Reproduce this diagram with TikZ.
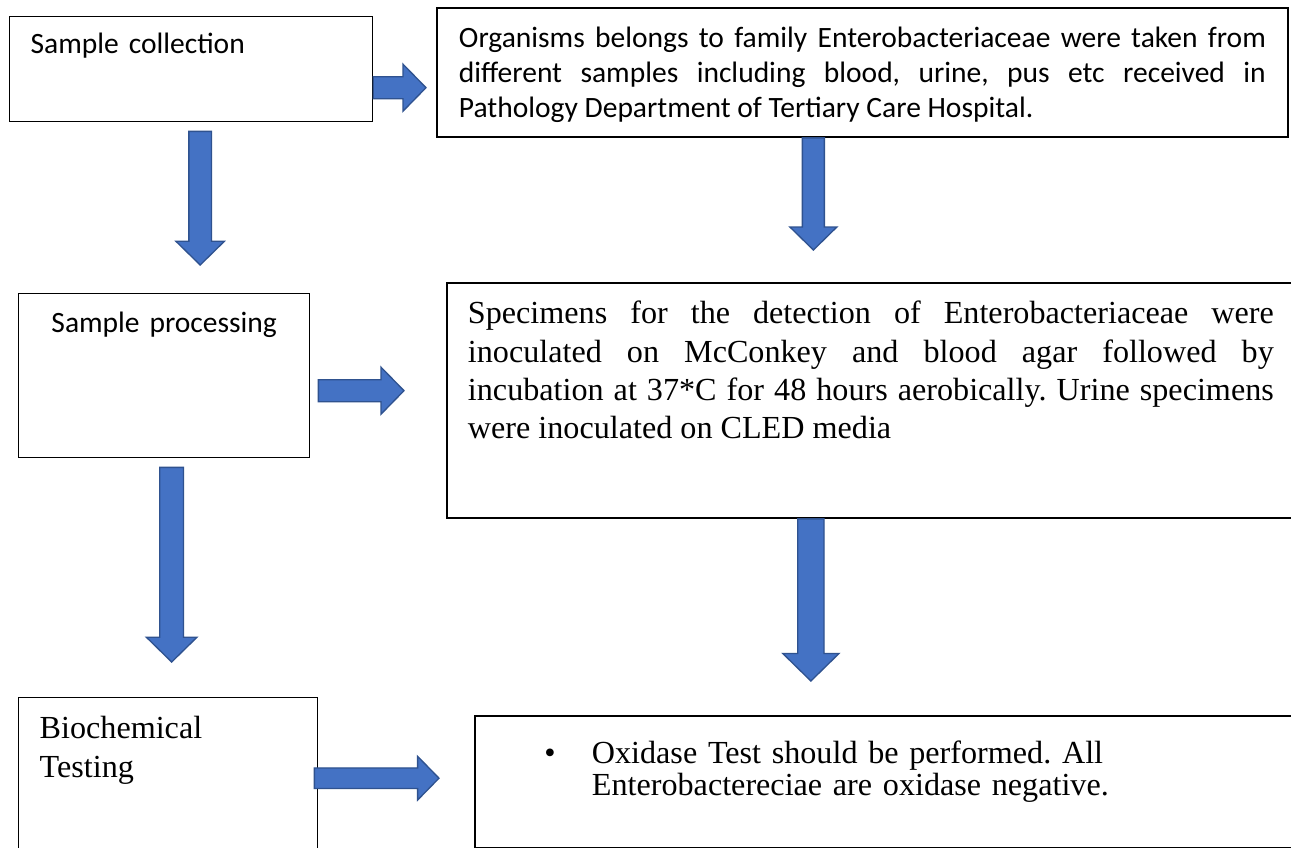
\documentclass[tikz,border=0pt]{standalone}
\usepackage{fontspec}
\setmainfont{Liberation Serif}
\newfontfamily\calibfont{Carlito}
\usetikzlibrary{calc}
\tolerance=10000
\hbadness=10000
\frenchspacing
\definecolor{arrfill}{HTML}{4472C4}
\definecolor{arrline}{HTML}{2F528F}
\tikzset{
  box/.style={draw, line width=0.8pt, anchor=north west, inner ysep=0pt, inner xsep=0.42cm},
  bigbox/.style={box, line width=1.1pt},
  sans/.style={font=\calibfont\fontsize{16.8pt}{19.9pt}\selectfont},
  serif/.style={font=\fontsize{18.3pt}{21.8pt}\selectfont},
  blk/.style={fill=arrfill, draw=arrline, line width=0.75pt, line join=miter},
}
% block arrows: [size factor]{start}{tip}
\newcommand{\rarr}[3][1]{%
  \draw[blk] let \p1=#2, \p2=#3 in
    (\x1,\y1+0.22cm*#1) -- (\x2-0.46cm*#1,\y1+0.22cm*#1) -- (\x2-0.46cm*#1,\y1+0.47cm*#1)
    -- (\x2,\y1) -- (\x2-0.46cm*#1,\y1-0.47cm*#1) -- (\x2-0.46cm*#1,\y1-0.22cm*#1)
    -- (\x1,\y1-0.22cm*#1) -- cycle;}
\newcommand{\darr}[3][1]{%
  \draw[blk] let \p1=#2, \p2=#3 in
    (\x1-0.22cm*#1,\y1) -- (\x1-0.22cm*#1,\y2+0.46cm*#1) -- (\x1-0.47cm*#1,\y2+0.46cm*#1)
    -- (\x1,\y2) -- (\x1+0.47cm*#1,\y2+0.46cm*#1) -- (\x1+0.22cm*#1,\y2+0.46cm*#1)
    -- (\x1+0.22cm*#1,\y1) -- cycle;}

\begin{document}
\begin{tikzpicture}[x=0.02cm, y=-0.02cm]
  \fill[white] (0,0) rectangle (1291,848);
  \useasboundingbox (0,0) rectangle (1291,848);
  \clip (0,0) rectangle (1291,848);

  % --- left column ---
  \node[box, sans, text width=6.42cm, text height=0.74cm, text depth=1.36cm] (coll) at (9,16)
    {Sample collection};
  \node[box, sans, align=center, inner xsep=0.2cm, text width=5.42cm, text height=0.78cm, text depth=2.5cm] (proc) at (18,293)
    {Sample processing};
  \node[box, align=left, text width=5.14cm, text height=0.82cm, text depth=2.64cm,
    font=\fontsize{18.3pt}{22.2pt}\selectfont] (bio) at (18,697)
    {Biochemical\\Testing};

  % --- right column ---
  \node[bigbox, sans, align=justify, inner xsep=0.44cm, text width=16.14cm, text height=0.8cm, text depth=1.78cm] (orgs) at (436,7)
    {Organisms belongs to family Enterobacteriaceae were taken from\linebreak
     different samples including blood, urine, pus etc received in\linebreak
     Pathology Department of Tertiary Care Hospital.};
  \node[bigbox, serif, align=justify, text width=16.12cm, text height=0.82cm, text depth=3.88cm] (spec) at (446,282)
    {Specimens for the detection of Enterobacteriaceae were\linebreak
     inoculated on McConkey and blood agar followed by\linebreak
     incubation at 37*C for 48 hours aerobically. Urine specimens\linebreak
     were inoculated on CLED media};
  \node[bigbox, inner xsep=0.4cm, text width=15.72cm, text height=0.96cm, text depth=1.68cm,
    font=\fontsize{18.3pt}{18.2pt}\selectfont] (oxi) at (474,715)
    {\makebox[1.94cm][l]{\hspace{0.99cm}\textbullet}\hangindent=1.94cm\hangafter=1
     Oxidase Test should be performed. All\hfil\break
     Enterobactereciae are oxidase negative.\par};

  % --- arrow ends ---
  \coordinate (a1s) at ($(coll.east)+(0,18.5)$);
  \coordinate (a1e) at ($(orgs.west |- a1s)+(-10,0)$);
  \coordinate (a2s) at ($(coll.south)+(9,9)$);
  \coordinate (a2e) at ($(a2s |- proc.north)+(0,-28)$);
  \coordinate (a3s) at ($(orgs.south)+(-49,0)$);
  \coordinate (a3e) at ($(a3s |- spec.north)+(0,-32)$);
  \coordinate (a4s) at ($(proc.east)+(8,15)$);
  \coordinate (a4e) at ($(spec.west |- a4s)+(-42,0)$);
  \coordinate (a5s) at ($(proc.south)+(7.5,9)$);
  \coordinate (a5e) at ($(a5s |- bio.north)+(0,-35)$);
  \coordinate (a6s) at ($(spec.south)+(-60,0)$);
  \coordinate (a6e) at ($(a6s |- oxi.north)+(0,-34)$);
  \coordinate (a7s) at ($(bio.east)+(-4,-6)$);
  \coordinate (a7e) at ($(oxi.west |- a7s)+(-35,0)$);

  % --- block arrows ---
  \rarr{(a1s)}{(a1e)}
  \darr[1.03]{(a2s)}{(a2e)}
  \darr{(a3s)}{(a3e)}
  \rarr{(a4s)}{(a4e)}
  \darr[1.08]{(a5s)}{(a5e)}
  \darr[1.2]{(a6s)}{(a6e)}
  \rarr[0.93]{(a7s)}{(a7e)}
\end{tikzpicture}
\end{document}
